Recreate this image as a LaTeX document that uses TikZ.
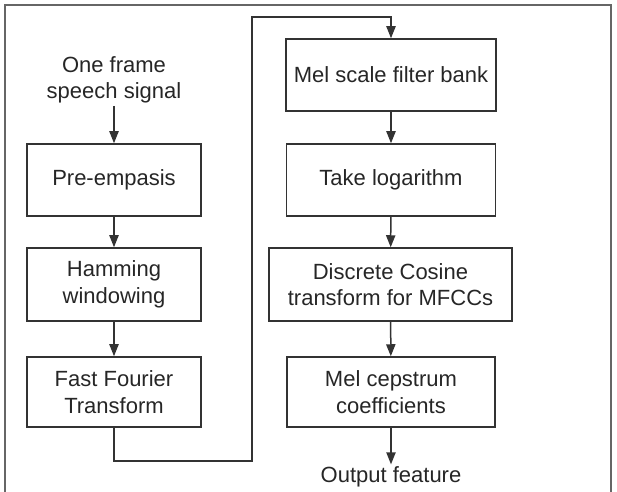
\documentclass[tikz,border=0pt]{standalone}
\usepackage{fontspec}
\setmainfont{Liberation Sans}
\usepackage{tikz}
\usetikzlibrary{positioning, arrows.meta}

\tikzset{
  box/.style={draw=black!80, line width=0.75pt, minimum width=87pt, minimum height=36pt,
              align=center, inner sep=0pt, text=black!85},
  lbl/.style={align=center, inner sep=1pt, text=black!85},
  flow/.style={draw=black!80, line width=0.75pt, -{Triangle[length=6pt, width=4.6pt]}}
}

\begin{document}
\begin{tikzpicture}[x=0.5pt, y=-0.5pt, font=\fontsize{11}{13.3}\selectfont]
    \useasboundingbox (0,0) rectangle (617,492);
    % 外框
    \draw[line width=1.1pt, black!60] (5,492) -- (5,5) -- (611,5) -- (611,492);

    % 左列
    \node[lbl] (in) at (114,80) {One frame\\speech signal};
    \node[box] (pre) at (114,180) {Pre-empasis};
    \node[box, minimum height=36.5pt] (ham) at (114,284.5) {Hamming\\windowing};
    \node[box, minimum height=35pt] (fft) at (114,392) {Fast Fourier\\Transform};

    % 右列
    \node[box, minimum width=105pt] (mel) at (391,75) {Mel scale filter bank};
    \node[box, minimum width=104.5pt] (logb) at (391,180) {Take logarithm};
    \node[box, minimum width=121.5pt, minimum height=36.5pt] (dct) at (390.5,284.5) {Discrete Cosine\\transform for MFCCs};
    \node[box, minimum width=104pt, minimum height=35pt] (cep) at (391,392) {Mel cepstrum\\coefficients};
    \node[lbl] (out) at (391,477) {Output feature};

    % 连线
    \coordinate (c1) at (252,461);
    \coordinate (c2) at (252,17);
    \draw[flow] (in) -- (pre);
    \draw[flow] (pre) -- (ham);
    \draw[flow] (ham) -- (fft);
    \draw[flow] (fft.south) |- (c1) -- (c2) -| (mel.north);
    \draw[flow] (mel) -- (logb);
    \draw[flow] (logb) -- (dct);
    \draw[flow] (dct) -- (cep);
    \draw[flow] (cep) -- (out);
\end{tikzpicture}
\end{document}
